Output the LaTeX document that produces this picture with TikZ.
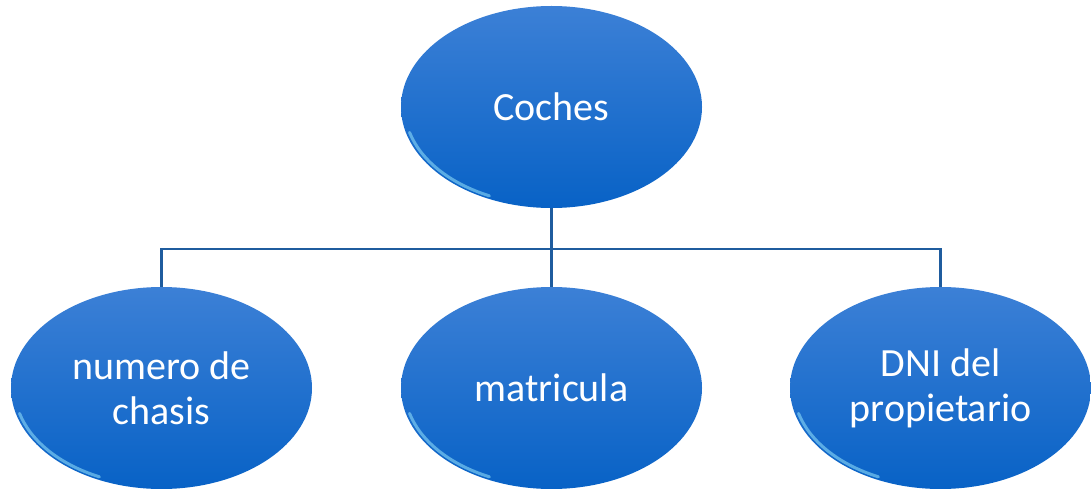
\documentclass[tikz,border=0pt]{standalone}
\usepackage{fontspec}
\setmainfont{Carlito}
\usetikzlibrary{shapes.geometric}
\definecolor{btop}{HTML}{3C80D6}
\definecolor{bbot}{HTML}{0862C6}
\definecolor{conncol}{HTML}{1F5C9E}
\begin{document}
\begin{tikzpicture}[x=1pt,y=-1pt,
  bubble/.style={ellipse, minimum width=301pt, minimum height=202pt, inner sep=0pt,
    top color=btop, bottom color=bbot,
    text=white, font=\fontsize{40}{45}\selectfont, align=center},
  conn/.style={draw=conncol, line width=2.2pt},
  rim/.style={draw=white!55!cyan, opacity=0.6, line width=3pt, line cap=round}]
\useasboundingbox (0,0) rectangle (1091,489);
\node[bubble] (top) at (551.5,107) {Coches};
\node[bubble] (left) at (161.5,388) {numero de\\chasis};
\node[bubble] (mid) at (551.5,388) {matricula};
\node[bubble] (right) at (940.5,388) {DNI del\\propietario};
\foreach \n in {top,left,mid,right}{
  \path[rim] (\n.center) ++(195:147pt and 98pt)
    arc[start angle=195, end angle=245, x radius=147pt, y radius=98pt];
}
\coordinate (bus) at (551.5,249);
\draw[conn] (top.south) -- (bus);
\draw[conn] (left.north) |- (bus) -| (right.north);
\draw[conn] (bus) -- (mid.north);
\end{tikzpicture}
\end{document}
